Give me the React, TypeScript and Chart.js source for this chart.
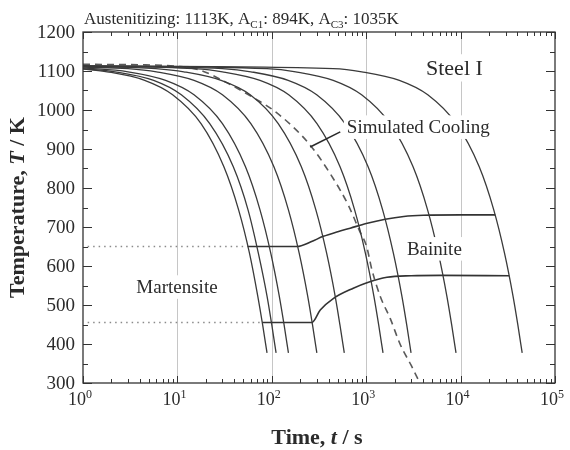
import React, { useEffect, useRef } from "react";
import { Chart, registerables } from "chart.js";

Chart.register(...registerables);

// ---- data (time in s, temperature in K) ----
const CURVE_1 = [[1, 1105], [1.8, 1098], [4.5, 1076], [8.9, 1039], [17.8, 965], [31, 855], [44.5, 744], [58, 633], [71, 523], [80, 449], [89, 377]];
const CURVE_2 = [[1, 1106], [2.2, 1098], [5.6, 1076], [11, 1039], [22, 965], [39, 855], [56, 744], [72, 633], [89, 523], [100, 449], [111, 377]];
const CURVE_3 = [[1, 1108], [3, 1098], [7.5, 1076], [15, 1039], [30, 965], [52.5, 855], [75, 744], [97.5, 633], [120, 523], [135, 449], [150, 377]];
const CURVE_4 = [[1, 1110], [3, 1106], [6, 1098], [15, 1076], [30, 1039], [60, 965], [105, 855], [150, 744], [195, 633], [240, 523], [270, 449], [300, 377]];
const CURVE_5 = [[1, 1112], [5.9, 1106], [11.7, 1098], [29, 1076], [59, 1039], [117, 965], [205, 855], [293, 744], [381, 633], [469, 523], [527, 449], [586, 377]];
const CURVE_6 = [[1, 1113], [15, 1106], [30, 1098], [75, 1076], [151, 1039], [301, 965], [527, 855], [754, 744], [980, 633], [1206, 523], [1356, 449], [1507, 377]];
const CURVE_7 = [[1, 1113], [30, 1106], [60, 1098], [149, 1076], [299, 1039], [597, 965], [1045, 855], [1493, 744], [1940, 633], [2388, 523], [2687, 449], [2985, 377]];
const CURVE_8 = [[1, 1113], [89, 1106], [179, 1098], [447, 1076], [894, 1039], [1788, 965], [3129, 855], [4470, 744], [5811, 633], [7152, 523], [8046, 449], [8940, 377]];
const CURVE_9 = [[1, 1113], [449, 1106], [898, 1098], [2245, 1076], [4490, 1039], [8980, 965], [15715, 855], [22450, 744], [29185, 633], [35920, 523], [40410, 449], [44900, 377]];
const COOLING_CURVES = [CURVE_1, CURVE_2, CURVE_3, CURVE_4, CURVE_5, CURVE_6, CURVE_7, CURVE_8, CURVE_9];

const SIMULATED = [[1, 1117], [4, 1116], [10, 1112], [17, 1103], [34, 1069], [70, 1026], [103, 1000], [169, 956], [255, 910], [420, 835], [646, 756], [850, 690], [1010, 650], [1150, 590], [1420, 520], [1800, 465], [2300, 398], [3000, 345], [3700, 300]];

const BAINITE_UPPER = [[56, 650], [185, 650], [260, 662], [351, 676], [500, 688], [677, 697], [1000, 709], [1590, 720], [2500, 727], [4030, 730], [10000, 731], [23300, 731]];
const BAINITE_LOWER = [[79, 455], [266, 455], [326, 487], [451, 517], [730, 543], [1019, 557], [1660, 571], [3000, 575], [6110, 576], [32700, 575]];
const MS_UPPER = [[1.12, 650], [56, 650]];
const MS_LOWER = [[1.12, 455], [79, 455]];

const X_DECADES = [1, 10, 100, 1000, 10000, 100000];
const X_EXPONENTS = ["0", "1", "2", "3", "4", "5"];
const GRID_X = [10, 100, 1000, 10000];
const Y_TICKS = [300, 400, 500, 600, 700, 800, 900, 1000, 1100, 1200];

const POINTER = [[255, 905], [531, 944]];
const LABEL_STEEL = { t: 8600, T: 1108, text: "Steel I" };
const LABEL_SIM = { t: 3566, T: 956, text: "Simulated Cooling" };
const LABEL_MART = { t: 9.9, T: 546, text: "Martensite" };
const LABEL_BAIN = { t: 5275, T: 644, text: "Bainite" };

const SERIF = "'Liberation Serif', 'Times New Roman', serif";
const INK = "#2b2b2b";

type Part = { t: string; size: number; bold?: boolean; italic?: boolean; dy?: number };

function fontOf(p: Part) {
  return `${p.italic ? "italic " : ""}${p.bold ? "bold " : ""}${p.size}px ${SERIF}`;
}

function drawParts(ctx: CanvasRenderingContext2D, parts: Part[], x: number, y: number, align: "left" | "center" | "right") {
  ctx.textAlign = "left";
  ctx.textBaseline = "alphabetic";
  let total = 0;
  for (const p of parts) {
    ctx.font = fontOf(p);
    total += ctx.measureText(p.t).width;
  }
  let cx = align === "center" ? x - total / 2 : align === "right" ? x - total : x;
  for (const p of parts) {
    ctx.font = fontOf(p);
    ctx.fillText(p.t, cx, y + (p.dy || 0));
    cx += ctx.measureText(p.t).width;
  }
}

const toXY = (arr: number[][]) => arr.map(([x, y]) => ({ x, y }));

const decorPlugin = {
  id: "decor",
  beforeDatasetsDraw(chart: any) {
    const { ctx, chartArea: a, scales } = chart;
    const xs = scales.x;
    ctx.save();
    ctx.strokeStyle = "#c6c6c6";
    ctx.lineWidth = 1;
    for (const v of GRID_X) {
      const px = Math.round(xs.getPixelForValue(v)) + 0.5;
      ctx.beginPath();
      ctx.moveTo(px, a.top);
      ctx.lineTo(px, a.bottom);
      ctx.stroke();
    }
    ctx.restore();
  },
  afterDatasetsDraw(chart: any) {
    const { ctx, chartArea: a, scales } = chart;
    const xs = scales.x;
    const ys = scales.y;
    ctx.save();

    // in-plot labels with white boxes
    const labels = [
      { ...LABEL_STEEL, size: 22 },
      { ...LABEL_SIM, size: 19 },
      { ...LABEL_MART, size: 19 },
      { ...LABEL_BAIN, size: 19 },
    ];
    for (const l of labels) {
      const px = xs.getPixelForValue(l.t);
      const py = ys.getPixelForValue(l.T);
      ctx.font = `${l.size}px ${SERIF}`;
      const w = ctx.measureText(l.text).width;
      ctx.fillStyle = "#ffffff";
      ctx.fillRect(px - w / 2 - 3, py - l.size * 0.62, w + 6, l.size * 1.24);
      ctx.fillStyle = INK;
      ctx.textAlign = "center";
      ctx.textBaseline = "middle";
      ctx.fillText(l.text, px, py + 1);
    }

    // pointer line
    ctx.strokeStyle = INK;
    ctx.lineWidth = 1.6;
    ctx.beginPath();
    ctx.moveTo(xs.getPixelForValue(POINTER[0][0]), ys.getPixelForValue(POINTER[0][1]));
    ctx.lineTo(xs.getPixelForValue(POINTER[1][0]), ys.getPixelForValue(POINTER[1][1]));
    ctx.stroke();

    // frame
    ctx.strokeStyle = "#333333";
    ctx.lineWidth = 1.3;
    ctx.strokeRect(a.left, a.top, a.right - a.left, a.bottom - a.top);

    // x ticks (inward, top and bottom)
    ctx.lineWidth = 1;
    for (let d = 0; d < X_DECADES.length; d++) {
      const base = X_DECADES[d];
      for (let m = 1; m <= 9; m++) {
        const v = base * m;
        if (v > X_DECADES[X_DECADES.length - 1]) break;
        const px = Math.round(xs.getPixelForValue(v)) + 0.5;
        const len = m === 1 ? 7 : 4;
        ctx.beginPath();
        ctx.moveTo(px, a.bottom);
        ctx.lineTo(px, a.bottom - len);
        ctx.moveTo(px, a.top);
        ctx.lineTo(px, a.top + len);
        ctx.stroke();
      }
    }
    // y ticks (inward, left and right), every 50 K
    for (let v = 300; v <= 1200; v += 50) {
      const py = Math.round(ys.getPixelForValue(v)) + 0.5;
      const len = v % 100 === 0 ? 9 : 5;
      ctx.beginPath();
      ctx.moveTo(a.left, py);
      ctx.lineTo(a.left + len, py);
      ctx.moveTo(a.right, py);
      ctx.lineTo(a.right - len, py);
      ctx.stroke();
    }

    // y tick labels
    ctx.fillStyle = INK;
    ctx.font = `19px ${SERIF}`;
    ctx.textAlign = "right";
    ctx.textBaseline = "middle";
    for (const v of Y_TICKS) {
      ctx.fillText(String(v), a.left - 8, ys.getPixelForValue(v) + 1);
    }

    // x tick labels 10^n
    for (let i = 0; i < X_DECADES.length; i++) {
      const px = xs.getPixelForValue(X_DECADES[i]);
      drawParts(ctx, [
        { t: "10", size: 18 },
        { t: X_EXPONENTS[i], size: 12, dy: -7 },
      ], px - 3, a.bottom + 22, "center");
    }

    // top annotation
    drawParts(ctx, [
      { t: "Austenitizing: 1113K, A", size: 17 },
      { t: "C1", size: 11, dy: 4 },
      { t: ": 894K, A", size: 17 },
      { t: "C3", size: 11, dy: 4 },
      { t: ": 1035K", size: 17 },
    ], a.left + 1, 24, "left");

    // x axis title
    drawParts(ctx, [
      { t: "Time, ", size: 22, bold: true },
      { t: "t", size: 22, bold: true, italic: true },
      { t: " / s", size: 22, bold: true },
    ], (a.left + a.right) / 2 - 2, 444, "center");

    // y axis title
    ctx.translate(16, (a.top + a.bottom) / 2);
    ctx.rotate(-Math.PI / 2);
    drawParts(ctx, [
      { t: "Temperature, ", size: 22, bold: true },
      { t: "T", size: 22, bold: true, italic: true },
      { t: " / K", size: 22, bold: true },
    ], 0, 8, "center");

    ctx.restore();
  },
};

export default function App() {
  const ref = useRef<HTMLCanvasElement>(null);
  useEffect(() => {
    const canvas = ref.current;
    if (!canvas) return;
    const solid = COOLING_CURVES.map((c, i) => ({
      label: `cooling ${i + 1}`,
      data: toXY(c),
      borderColor: "#3a3a3a",
      borderWidth: 1.3,
      pointRadius: 0,
      cubicInterpolationMode: "monotone" as const,
      fill: false,
    }));
    const chart = new Chart(canvas, {
      type: "line",
      data: {
        datasets: [
          ...solid,
          {
            label: "Simulated Cooling",
            data: toXY(SIMULATED),
            borderColor: "#5a5a5a",
            borderWidth: 1.6,
            borderDash: [7, 5],
            pointRadius: 0,
            cubicInterpolationMode: "monotone" as const,
            fill: false,
          },
          {
            label: "Bs upper",
            data: toXY(BAINITE_UPPER),
            borderColor: "#333333",
            borderWidth: 1.6,
            pointRadius: 0,
            cubicInterpolationMode: "monotone" as const,
            fill: false,
          },
          {
            label: "Bs lower",
            data: toXY(BAINITE_LOWER),
            borderColor: "#333333",
            borderWidth: 1.6,
            pointRadius: 0,
            cubicInterpolationMode: "monotone" as const,
            fill: false,
          },
          {
            label: "Ms upper",
            data: toXY(MS_UPPER),
            borderColor: "#8a8a8a",
            borderWidth: 1.4,
            borderDash: [1.5, 4],
            pointRadius: 0,
            fill: false,
          },
          {
            label: "Ms lower",
            data: toXY(MS_LOWER),
            borderColor: "#8a8a8a",
            borderWidth: 1.4,
            borderDash: [1.5, 4],
            pointRadius: 0,
            fill: false,
          },
        ],
      },
      options: {
        responsive: false,
        animation: false,
        events: [],
        layout: { padding: { left: 83, right: 15, top: 32, bottom: 67 } },
        plugins: { legend: { display: false }, tooltip: { enabled: false } },
        scales: {
          x: { type: "logarithmic", min: 1, max: 100000, display: false },
          y: { type: "linear", min: 300, max: 1200, display: false },
        },
      },
      plugins: [decorPlugin],
    });
    return () => chart.destroy();
  }, []);
  return (
    <div style={{ position: "fixed", left: 0, top: 0, width: 570, height: 450, background: "#ffffff" }}>
      <canvas ref={ref} width={570} height={450} style={{ display: "block", width: 570, height: 450 }} />
    </div>
  );
}
